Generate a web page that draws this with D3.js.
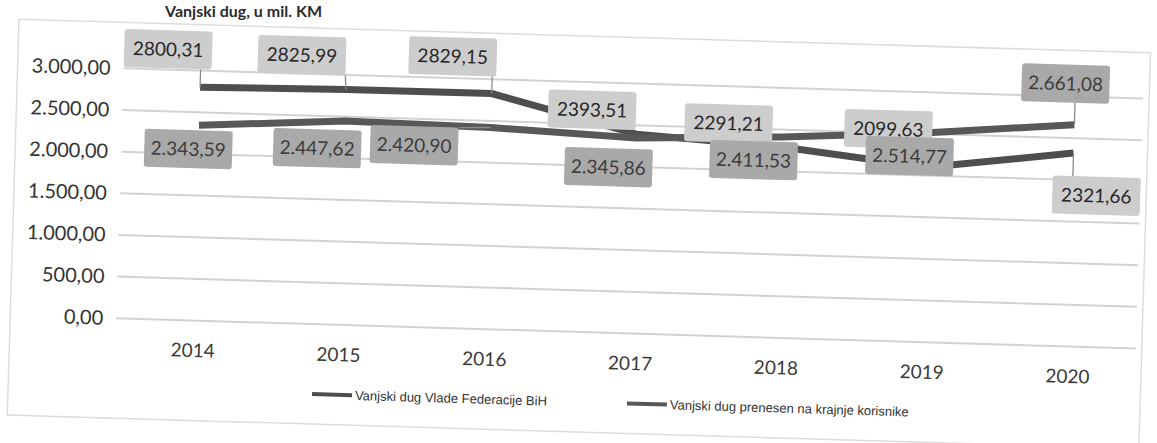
<!DOCTYPE html>
<meta charset="utf-8">
<script src="https://d3js.org/d3.v7.min.js"></script>
<style>
  body { margin: 0; background: #fff; }
  svg text { font-family: 'Lato', 'Noto Sans', sans-serif; }
  .legend text { font-family: 'Liberation Sans', Arial, sans-serif; }
</style>
<div id="chart"></div>
<script>

// data (mil. KM)
var years = ["2014", "2015", "2016", "2017", "2018", "2019", "2020"];
var vladaFBiH = [2800.31, 2825.99, 2829.15, 2393.51, 2291.21, 2099.63, 2321.66];
var prenesenKorisnicima = [2343.59, 2447.62, 2420.90, 2345.86, 2411.53, 2514.77, 2661.08];
var yTicks = [0, 500, 1000, 1500, 2000, 2500, 3000];
var seriesNames = ["Vanjski dug Vlade Federacije BiH", "Vanjski dug prenesen na krajnje korisnike"];

var width = 1157, height = 443;

var bs = d3.formatLocale({decimal: ",", thousands: ".", grouping: [3], currency: ["", " KM"]});
var fmtGroup = bs.format(",.2f");
var fmtPlain = bs.format(".2f");

// where each data label sits relative to its point (as in the original)
var offsA = [[-33, -37], [-45, -33], [-40, -36], [-45, -23], [-54, -22], [-40, -37], [24, 42]];
var offsB = [[-10, 24], [-27, 28], [-76, 20], [-27, 30], [-28, 24], [-18, 24], [-10, -41]];

var svg = d3.select("#chart").append("svg")
    .attr("width", width)
    .attr("height", height);

svg.append("rect")
    .attr("width", width).attr("height", height)
    .attr("fill", "#fff");

// title, sitting right at the top edge of the scan
svg.append("text")
    .attr("x", 322).attr("y", 17)
    .attr("text-anchor", "end")
    .style("font-size", "16px")
    .style("font-weight", "700")
    .attr("fill", "#2b2b2b")
    .text("Vanjski dug, u mil. KM");

// the scan is slightly tilted
var g = svg.append("g")
    .attr("transform", "rotate(1.7,110,190)");

g.append("rect")
    .attr("x", 14).attr("y", 22)
    .attr("width", 1132).attr("height", 396)
    .attr("fill", "none")
    .attr("stroke", "#dcdcdc")
    .attr("stroke-width", 1.5);

var x = d3.scalePoint().domain(years).range([197, 1072]);
var y = d3.scaleLinear().domain([0, 3000]).range([318, 68]);

g.append("g").selectAll("line")
  .data(yTicks)
  .enter().append("line")
    .attr("x1", 120).attr("x2", 1140)
    .attr("y1", function(d) { return y(d); })
    .attr("y2", function(d) { return y(d); })
    .attr("stroke", "#d2d2d2")
    .attr("stroke-width", 2);

var yAxis = g.append("g")
    .attr("transform", "translate(107,0)")
    .call(d3.axisLeft(y).tickValues(yTicks).tickSize(0).tickPadding(0).tickFormat(fmtGroup));
yAxis.select(".domain").remove();
yAxis.selectAll("text")
    .style("font-size", "20px")
    .attr("fill", "#333");

var xAxis = g.append("g")
    .attr("transform", "translate(0,341)")
    .call(d3.axisBottom(x).tickSize(0).tickPadding(0));
xAxis.select(".domain").remove();
xAxis.selectAll("text")
    .style("font-size", "19px")
    .attr("fill", "#3a3a3a");

var line = d3.line()
    .x(function(d, i) { return x(years[i]); })
    .y(function(d) { return y(d); });

var series = [
  {name: seriesNames[0], values: vladaFBiH, color: "#4e4e4e", fmt: fmtPlain, offs: offsA, box: "#cdcdcd", txt: "#272727"},
  {name: seriesNames[1], values: prenesenKorisnicima, color: "#585858", fmt: fmtGroup, offs: offsB, box: "#a9a9a9", txt: "#3c3c3c"}
];

series.forEach(function(s) {
  g.append("path")
      .datum(s.values)
      .attr("fill", "none")
      .attr("stroke", s.color)
      .attr("stroke-width", 7)
      .attr("d", line);
});

// data labels with leader lines
series.forEach(function(s) {
  var lab = g.append("g").selectAll("g")
    .data(s.values)
    .enter().append("g");

  lab.each(function(d, i) {
    var px = x(years[i]), py = y(d);
    var cx = px + s.offs[i][0], cy = py + s.offs[i][1];
    var w = 88, h = 38;
    var el = d3.select(this);
    var nx = Math.max(cx - w / 2, Math.min(px, cx + w / 2));
    var ny = Math.max(cy - h / 2, Math.min(py, cy + h / 2));
    if (Math.hypot(px - nx, py - ny) > 12) {
      el.append("line")
          .attr("x1", nx).attr("y1", ny)
          .attr("x2", px).attr("y2", py)
          .attr("stroke", "#8a8a8a")
          .attr("stroke-width", 1.3);
    }
    el.append("rect")
        .attr("x", cx - w / 2).attr("y", cy - h / 2)
        .attr("width", w).attr("height", h)
        .attr("rx", 3)
        .attr("fill", s.box);
    el.append("text")
        .attr("x", cx).attr("y", cy)
        .attr("dy", "0.35em")
        .attr("text-anchor", "middle")
        .style("font-size", "19px")
        .attr("fill", s.txt)
        .text(s.fmt(d));
  });
});

// legend
var legendX = [318, 633];
var legend = g.selectAll(".legend")
    .data(series)
  .enter().append("g")
    .attr("class", "legend")
    .attr("transform", function(d, i) { return "translate(" + legendX[i] + ",388)"; });

legend.append("line")
    .attr("x1", 0).attr("x2", 40)
    .attr("stroke", function(d) { return d.color; })
    .attr("stroke-width", 4);

legend.append("text")
    .attr("x", 43)
    .attr("dy", "0.35em")
    .style("font-size", "13px")
    .attr("fill", "#333")
    .text(function(d) { return d.name; });

</script>
